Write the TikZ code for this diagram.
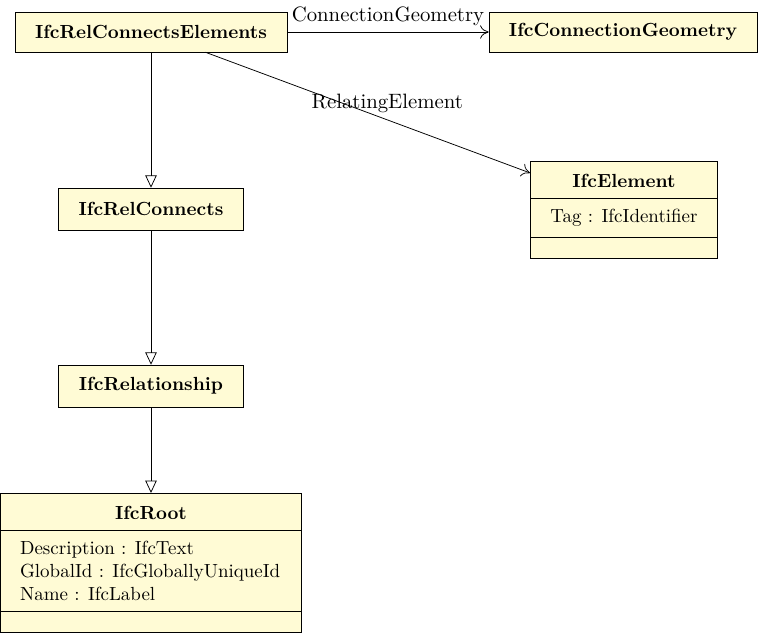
\documentclass[tikz,border=0pt]{standalone}
\usepackage{tikz}
\usetikzlibrary{arrows,arrows.meta,shapes,positioning}
\definecolor{ifcyellow}{RGB}{255,251,213}
\tikzstyle{classbox} = [draw, fill=ifcyellow, font=\bfseries, inner xsep=10.5pt, minimum height=21pt]
\tikzstyle{umlclass} = [draw, fill=ifcyellow, rectangle split, rectangle split parts=3, rectangle split part align={center,left,left}, inner xsep=10.5pt, inner ysep=5.5pt, anchor=north]
\tikzstyle{assoc} = [-{To[length=4.5pt,width=7pt]}]
\tikzstyle{assoclabel} = [font=\fontsize{10.95}{13}\selectfont]
\tikzstyle{inherit} = [-{Triangle[open,length=6.5pt,width=6pt]}]
\newcommand{\noops}{\hspace*{1pt}}

\begin{document}
\begin{tikzpicture}[x=0.527pt, y=-0.527pt]
\useasboundingbox (0,0) rectangle (759,634);

% classes
\node[classbox] (rce) at (151,32) {IfcRelConnectsElements};
\node[classbox] (cg) at (623,32) {IfcConnectionGeometry};
\node[classbox, minimum width=97.5pt, minimum height=22pt] (rc) at (151,209) {IfcRelConnects};
\node[classbox, minimum width=97.5pt, minimum height=22pt] (rel) at (151,386) {IfcRelationship};

\node[umlclass] (elem) at (624,161) {\rule{0pt}{8pt}\textbf{IfcElement}
  \nodepart{two} Tag : IfcIdentifier
  \nodepart{three}\noops};

\node[umlclass] (root) at (151,493) {\rule{0pt}{8pt}\textbf{IfcRoot}
  \nodepart{two} \parbox{138pt}{Description : IfcText\\ GlobalId : IfcGloballyUniqueId\\ Name : IfcLabel}
  \nodepart{three}\noops};

% associations
\draw[assoc] (rce) -- node[assoclabel, above] {ConnectionGeometry} (cg);
\draw[assoc] (rce) -- node[assoclabel, pos=0.56, above] {RelatingElement} ([yshift=-6.3pt]elem.north west);

% inheritance
\draw[inherit] (rce) -- (rc);
\draw[inherit] (rc) -- (rel);
\draw[inherit] (rel) -- (root);
\end{tikzpicture}
\end{document}
